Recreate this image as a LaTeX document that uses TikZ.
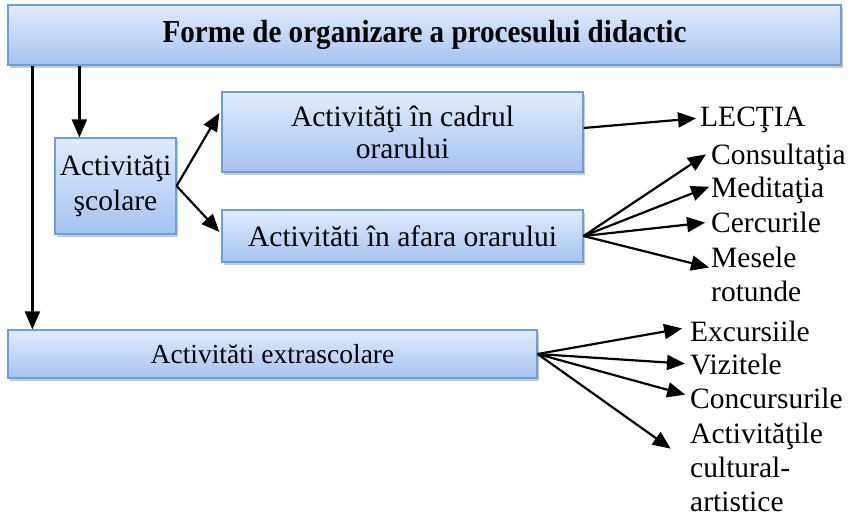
\documentclass[tikz,border=0pt]{standalone}
\usepackage{fontspec}
\setmainfont{Liberation Serif}
\newfontfamily\titlefont[FakeStretch=0.91]{Liberation Serif}
\usepackage{tikz}
\usetikzlibrary{positioning, shadows, arrows.meta}

\definecolor{boxtop}{HTML}{E1EBFB}
\definecolor{boxbottom}{HTML}{A6C3F1}
\definecolor{boxline}{HTML}{6E9DDB}

\begin{document}
\begin{tikzpicture}[
    x=1pt, y=-1pt,
    bluebox/.style={draw=boxline, line width=1.2pt, rectangle, top color=boxtop, bottom color=boxbottom, align=center, inner sep=0pt,
        drop shadow={shadow xshift=2pt, shadow yshift=-3pt, opacity=0.35, fill=black!60}, font=\fontsize{29.5}{33}\selectfont},
    titlebox/.style={bluebox, minimum width=833pt, minimum height=60pt, font=\titlefont\fontsize{32}{36}\selectfont\bfseries},
    largebox/.style={bluebox, minimum width=361pt},
    smallbox/.style={bluebox, minimum width=121pt, minimum height=96pt, font=\fontsize{29.5}{35}\selectfont},
    itemtext/.style={anchor=west, align=left, inner sep=0pt, font=\fontsize{29.5}{34}\selectfont},
    arr/.style={line width=2.2pt, -{Triangle[length=18pt, width=15pt]}}
]
\useasboundingbox (0,0) rectangle (850,516);

\node[titlebox] (title) at (424.5,35) {Forme de organizare a procesului didactic};

\node[smallbox] (scolare) at (115.5,186) {Activităţi\\şcolare};
\node[largebox, minimum height=80pt, font=\fontsize{29.5}{32}\selectfont] (cadru) at (402.5,132) {Activităţi în cadrul\\orarului};
\node[largebox, minimum height=52pt] (afara) at (402.5,236) {Activităti în afara orarului};
\node[bluebox, minimum width=529pt, minimum height=48pt, font=\fontsize{27.5}{33}\selectfont] (extra) at (272.5,354) {Activităti extrascolare};

\node[itemtext] (lectia) at (700,120) {LECŢIA};
\node[itemtext] (consult) at (711,157) {Consultaţia};
\node[itemtext] (medit) at (711,190) {Meditaţia};
\node[itemtext] (cerc) at (711,222) {Cercurile};
\node[itemtext] (mesele) at (711,274) {Mesele\\rotunde};

\node[itemtext] (excurs) at (690,331) {Excursiile};
\node[itemtext] (vizit) at (690,364) {Vizitele};
\node[itemtext] (concurs) at (690,398) {Concursurile};
\node[itemtext] (cultural) at (690,467) {Activităţile\\cultural-\\artistice};

\draw[arr] ([xshift=25pt]title.south west) -- ([xshift=25pt]extra.north west);
\draw[arr] ([xshift=25pt]scolare.north west |- title.south) -- ([xshift=25pt]scolare.north west);
\draw[arr] (scolare.east) -- ([xshift=-2pt, yshift=19pt]cadru.west);
\draw[arr] (scolare.east) -- ([xshift=-2pt, yshift=4pt]afara.west);

\draw[arr, shorten >=4pt] ([yshift=4pt]cadru.east) -- ([yshift=2pt]lectia.west);
\draw[arr, shorten >=6pt] (afara.east) -- ([yshift=6pt]consult.west);
\draw[arr, shorten >=2pt] (afara.east) -- ([yshift=4pt]medit.west);
\draw[arr, shorten >=6pt] (afara.east) -- (cerc.west);
\draw[arr, shorten >=2pt] (afara.east) -- ([yshift=6pt]mesele.west);

\draw[arr, shorten >=8pt] (extra.east) -- ([yshift=4pt]excurs.west);
\draw[arr, shorten >=5pt] (extra.east) -- (vizit.west);
\draw[arr, shorten >=5pt] (extra.east) -- ([yshift=2pt]concurs.west);
\draw[arr, shorten >=4pt] (extra.east) -- ([xshift=-16pt, yshift=16pt]cultural.west);
\end{tikzpicture}
\end{document}
